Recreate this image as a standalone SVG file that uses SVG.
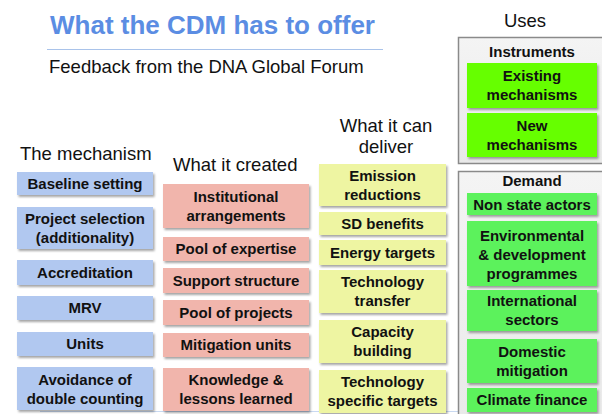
<svg xmlns="http://www.w3.org/2000/svg" width="602" height="414" viewBox="0 0 602 414">
  <defs>
    <filter id="shadow" x="-10%" y="-10%" width="125%" height="140%">
      <feDropShadow dx="1.5" dy="2" stdDeviation="1.2" flood-color="#000" flood-opacity="0.35"/>
    </filter>
    <linearGradient id="panel" x1="0" y1="0" x2="0" y2="1">
      <stop offset="0" stop-color="#f4f4f4"/>
      <stop offset="1" stop-color="#e9e9e9"/>
    </linearGradient>
  </defs>
  <style>
    text { font-family: "Liberation Sans", Arial, sans-serif; fill: #111; }
    .title { font-size: 26px; font-weight: bold; fill: #5b8de3; }
    .head { font-size: 18.5px; }
    .lbl { font-size: 15px; font-weight: bold; text-anchor: middle; }
    .box { filter: url(#shadow); }
    .blue { fill: #b1c8f0; }
    .pink { fill: #f1b5ac; }
    .yellow { fill: #eef5a2; }
    .lime { fill: #66ff00; }
    .green { fill: #5cf25c; }
    .panel { fill: url(#panel); stroke: #8a8a8a; stroke-width: 1.5; }
  </style>

  <rect width="602" height="414" fill="#ffffff"/>

  <!-- heading -->
  <text class="title" x="50" y="34">What the CDM has to offer</text>
  <line x1="47" y1="49.5" x2="383" y2="49.5" stroke="#a9c3ea" stroke-width="1.2"/>
  <text class="head" x="49" y="73">Feedback from the DNA Global Forum</text>
  <line x1="40" y1="411.5" x2="460" y2="411.5" stroke="#c9d9f1" stroke-width="1"/>

  <!-- column headings -->
  <text class="head" x="20" y="160">The mechanism</text>
  <text class="head" x="173" y="171">What it created</text>
  <text class="head" x="386" y="132" text-anchor="middle">What it can</text>
  <text class="head" x="386" y="153" text-anchor="middle">deliver</text>
  <text class="head" x="525" y="27" text-anchor="middle">Uses</text>

  <!-- the mechanism -->
  <g id="baseline-setting"><rect class="box blue" x="17" y="172" width="136" height="23"/><text class="lbl" x="85" y="189">Baseline setting</text></g>
  <g id="project-selection"><rect class="box blue" x="17" y="207" width="136" height="42"/><text class="lbl" x="85" y="223.5">Project selection</text><text class="lbl" x="85" y="242.5">(additionality)</text></g>
  <g id="accreditation"><rect class="box blue" x="17" y="260" width="136" height="25"/><text class="lbl" x="85" y="278">Accreditation</text></g>
  <g id="mrv"><rect class="box blue" x="17" y="296" width="136" height="24"/><text class="lbl" x="85" y="313">MRV</text></g>
  <g id="units"><rect class="box blue" x="17" y="332" width="136" height="24"/><text class="lbl" x="85" y="349">Units</text></g>
  <g id="avoidance"><rect class="box blue" x="17" y="367" width="136" height="43"/><text class="lbl" x="85" y="384.5">Avoidance of</text><text class="lbl" x="85" y="403.5">double counting</text></g>

  <!-- what it created -->
  <g id="institutional"><rect class="box pink" x="163" y="184" width="146" height="44"/><text class="lbl" x="236" y="201.5">Institutional</text><text class="lbl" x="236" y="220.5">arrangements</text></g>
  <g id="pool-expertise"><rect class="box pink" x="163" y="237" width="146" height="24"/><text class="lbl" x="236" y="254">Pool of expertise</text></g>
  <g id="support-structure"><rect class="box pink" x="163" y="268" width="146" height="25"/><text class="lbl" x="236" y="285.5">Support structure</text></g>
  <g id="pool-projects"><rect class="box pink" x="163" y="300" width="146" height="25"/><text class="lbl" x="236" y="317.5">Pool of projects</text></g>
  <g id="mitigation-units"><rect class="box pink" x="163" y="333" width="146" height="24"/><text class="lbl" x="236" y="350">Mitigation units</text></g>
  <g id="knowledge"><rect class="box pink" x="163" y="368" width="146" height="43"/><text class="lbl" x="236" y="385">Knowledge &amp;</text><text class="lbl" x="236" y="404">lessons learned</text></g>

  <!-- what it can deliver -->
  <g id="emission-reductions"><rect class="box yellow" x="319" y="164" width="127" height="42"/><text class="lbl" x="382.5" y="180.5">Emission</text><text class="lbl" x="382.5" y="199.5">reductions</text></g>
  <g id="sd-benefits"><rect class="box yellow" x="319" y="212" width="127" height="23"/><text class="lbl" x="382.5" y="228.5">SD benefits</text></g>
  <g id="energy-targets"><rect class="box yellow" x="319" y="240" width="127" height="25"/><text class="lbl" x="382.5" y="257.5">Energy targets</text></g>
  <g id="technology-transfer"><rect class="box yellow" x="319" y="270" width="127" height="43"/><text class="lbl" x="382.5" y="287">Technology</text><text class="lbl" x="382.5" y="306">transfer</text></g>
  <g id="capacity-building"><rect class="box yellow" x="319" y="320" width="127" height="43"/><text class="lbl" x="382.5" y="337">Capacity</text><text class="lbl" x="382.5" y="356">building</text></g>
  <g id="technology-targets"><rect class="box yellow" x="319" y="370" width="127" height="43"/><text class="lbl" x="382.5" y="387">Technology</text><text class="lbl" x="382.5" y="406">specific targets</text></g>

  <!-- uses: instruments -->
  <g id="instruments">
    <rect class="panel" x="458.5" y="37.5" width="160" height="126"/>
    <text class="lbl" x="532" y="57">Instruments</text>
  </g>
  <g id="existing-mechanisms"><rect class="box lime" x="467" y="63" width="130" height="45"/><text class="lbl" x="532" y="81">Existing</text><text class="lbl" x="532" y="100">mechanisms</text></g>
  <g id="new-mechanisms"><rect class="box lime" x="467" y="113" width="130" height="44"/><text class="lbl" x="532" y="130.5">New</text><text class="lbl" x="532" y="149.5">mechanisms</text></g>

  <!-- uses: demand -->
  <g id="demand">
    <rect class="panel" x="458.5" y="171.5" width="160" height="260"/>
    <text class="lbl" x="532" y="186">Demand</text>
  </g>
  <g id="non-state-actors"><rect class="box green" x="467" y="193" width="130" height="22"/><text class="lbl" x="532" y="209.5">Non state actors</text></g>
  <g id="environmental-programmes"><rect class="box green" x="467" y="221" width="130" height="65"/><text class="lbl" x="532" y="240.5">Environmental</text><text class="lbl" x="532" y="259.5">&amp; development</text><text class="lbl" x="532" y="278.5">programmes</text></g>
  <g id="international-sectors"><rect class="box green" x="467" y="290" width="130" height="41"/><text class="lbl" x="532" y="306">International</text><text class="lbl" x="532" y="324.5">sectors</text></g>
  <g id="domestic-mitigation"><rect class="box green" x="467" y="339" width="130" height="44"/><text class="lbl" x="532" y="356.5">Domestic</text><text class="lbl" x="532" y="375.5">mitigation</text></g>
  <g id="climate-finance"><rect class="box green" x="467" y="388" width="130" height="24"/><text class="lbl" x="532" y="405">Climate finance</text></g>
</svg>
